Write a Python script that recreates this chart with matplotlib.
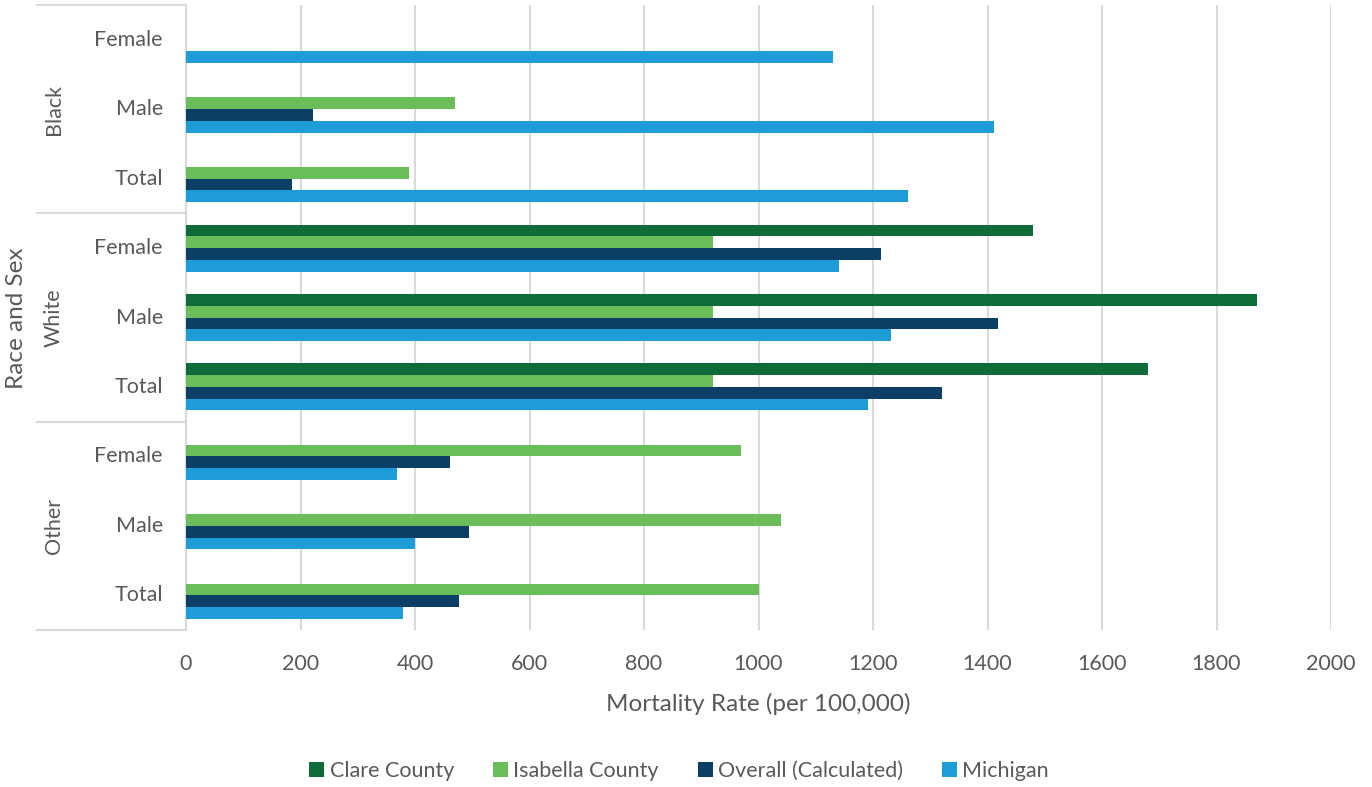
import numpy as np
import matplotlib.pyplot as plt
import matplotlib.transforms as mtransforms
from matplotlib.lines import Line2D

plt.rcParams['font.family'] = ['Lato', 'DejaVu Sans']

# rows, top to bottom
groups = ['Black', 'White', 'Other']
sexes = ['Female', 'Male', 'Total']

series = ['Clare County', 'Isabella County', 'Overall (Calculated)', 'Michigan']
colors = ['#106b3a', '#6abd5a', '#0b3f66', '#1e9cd7']

nan = np.nan
clare = [nan, nan, nan, 1480, 1871, 1681, nan, nan, nan]
isabella = [nan, 469, 390, 920, 920, 920, 970, 1040, 1001]
overall = [nan, 222, 185, 1214, 1419, 1320, 461, 494, 476]
michigan = [1130, 1411, 1261, 1141, 1231, 1191, 369, 400, 379]
values = [clare, isabella, overall, michigan]

grey_text = '#595959'
grey_line = '#d9d9d9'

W, H = 1372, 787
fig = plt.figure(figsize=(W / 100, H / 100), dpi=100)
ax = fig.add_axes([186 / W, 1 - 630 / H, 1145 / W, 625 / H])

n_rows = len(groups) * len(sexes)
y = np.arange(n_rows)
h = 0.169
for i, (name, vals, c) in enumerate(zip(series, values, colors)):
    ax.barh(y + (i - 1.5) * h, vals, height=h, color=c, label=name, zorder=3)

ax.set_xlim(0, 2000)
ax.set_ylim(n_rows - 0.5, -0.5)
ax.set_xticks(np.arange(0, 2001, 200))
ax.set_yticks([])
ax.grid(axis='x', color=grey_line, linewidth=1.5, zorder=0)
ax.tick_params(axis='x', length=0, pad=17, labelsize=15.5, labelcolor=grey_text)
for s in ['top', 'right', 'bottom']:
    ax.spines[s].set_visible(False)
ax.spines['left'].set_color(grey_line)
ax.spines['left'].set_linewidth(1.5)

ax.set_xlabel('Mortality Rate (per 100,000)', fontsize=17.5, color=grey_text, labelpad=14)

# two-level category labels on the left
tr = mtransforms.blended_transform_factory(fig.transFigure, ax.transData)
for k in range(n_rows):
    ax.text(163 / W, k, sexes[k % 3], transform=tr, ha='right', va='center',
            fontsize=15.5, color=grey_text)
for g, name in enumerate(groups):
    ax.text(54 / W, g * 3 + 1, name, transform=tr, ha='center', va='center',
            rotation=90, fontsize=15.5, color=grey_text)
for b in [-0.5, 2.5, 5.5, 8.5]:
    ax.add_line(Line2D([37 / W, 186 / W], [b, b], transform=tr, color=grey_line,
                       linewidth=1.5, clip_on=False))
fig.text(17 / W, 1 - 318 / H, 'Race and Sex', rotation=90, ha='center', va='center',
         fontsize=17.5, color=grey_text)

leg = fig.legend(loc='center', bbox_to_anchor=(679 / W, 1 - 771 / H), ncol=4,
                 frameon=False, fontsize=15.5, handlelength=0.7, handleheight=0.7,
                 handletextpad=0.25, columnspacing=1.8)
for t in leg.get_texts():
    t.set_color(grey_text)

fig.savefig('out.png', dpi=100)
